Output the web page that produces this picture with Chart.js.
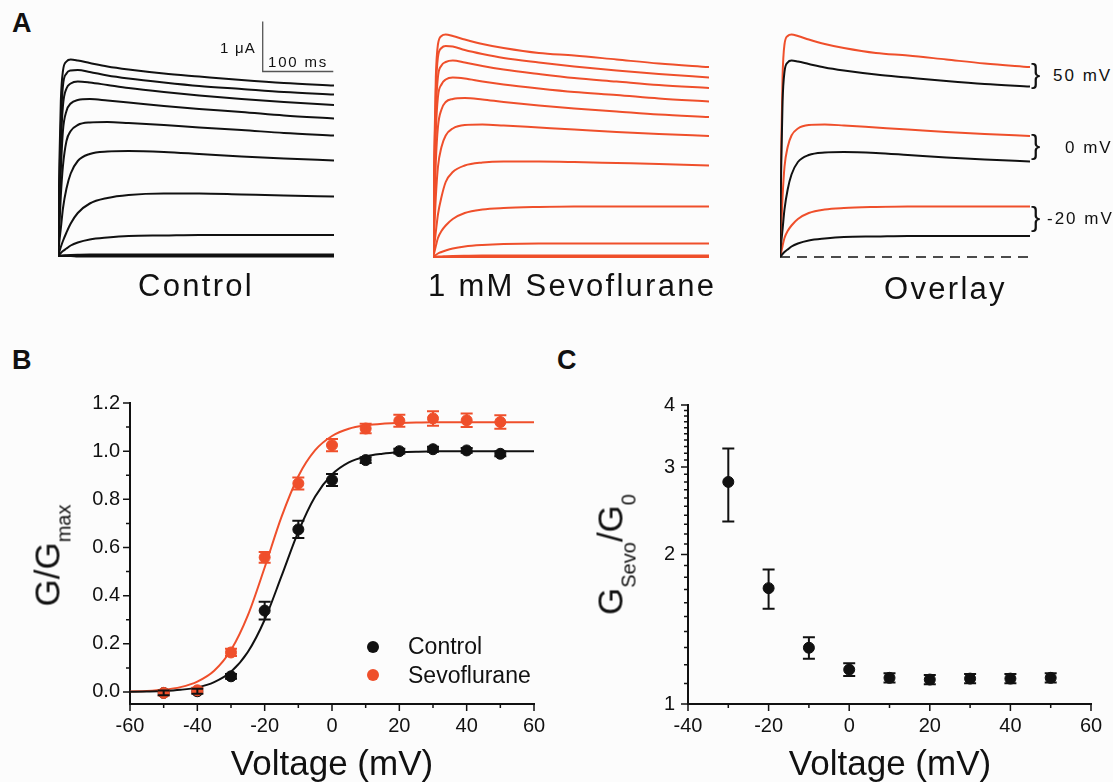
<!DOCTYPE html>
<html>
<head>
<meta charset="utf-8">
<script src="https://cdn.jsdelivr.net/npm/chart.js@4.4.1/dist/chart.umd.min.js"></script>
<style>
  body { margin: 0; width: 1113px; height: 782px; overflow: hidden; position: relative;
         background: #fcfcfc; color: #111; font-family: "Liberation Sans", Arial, sans-serif; }
  canvas { position: absolute; }
  .t { position: absolute; white-space: nowrap; line-height: 1; }
  .panel { font-weight: bold; font-size: 27px; }
  .cap { font-size: 31px; letter-spacing: 2.3px; }
  .mv { font-size: 17px; letter-spacing: 2px; }
  .brace { font-size: 28px; }
  .ttl { font-size: 35px; line-height: 35px; text-align: center; }
  .sub { font-size: 20px; position: relative; }
  .dot { position: absolute; width: 12px; height: 12px; border-radius: 50%; }
</style>
</head>
<body>
<canvas id="ctl" width="296" height="270" style="left:48px;top:6px"></canvas>
<canvas id="sevo" width="296" height="270" style="left:423px;top:7px"></canvas>
<canvas id="ovl" width="270" height="270" style="left:770px;top:7px"></canvas>
<canvas id="gv" width="560" height="402" style="left:0;top:380px"></canvas>
<canvas id="ratio" width="553" height="402" style="left:560px;top:380px"></canvas>

<div class="t panel" style="left:12px;top:10px">A</div>
<div class="t panel" style="left:12px;top:347px">B</div>
<div class="t panel" style="left:557px;top:347px">C</div>

<div class="t" style="left:220px;top:40px;font-size:15px;letter-spacing:1.2px">1 μA</div>
<div class="t" style="left:268px;top:54px;font-size:15px;letter-spacing:1.8px">100 ms</div>

<div class="t cap" style="left:138px;top:270px">Control</div>
<div class="t cap" style="left:428px;top:270px">1 mM Sevoflurane</div>
<div class="t cap" style="left:884px;top:273px">Overlay</div>

<div class="t brace" style="left:1031px;top:60px">}</div>
<div class="t brace" style="left:1031px;top:131px">}</div>
<div class="t brace" style="left:1031px;top:203px">}</div>
<div class="t mv" style="left:1053px;top:67px">50 mV</div>
<div class="t mv" style="left:1065px;top:139px">0 mV</div>
<div class="t mv" style="left:1047px;top:210px">-20 mV</div>

<div class="t ttl" style="left:-50px;top:535px;width:200px;transform:rotate(-90deg)">G/G<span class="sub" style="top:11px">max</span></div>
<div class="t ttl" style="left:513px;top:534px;width:200px;transform:rotate(-90deg)">G<span class="sub" style="top:13px">Sevo</span>/G<span class="sub" style="top:13px">0</span></div>
<div class="t ttl" style="left:182px;top:745px;width:300px">Voltage (mV)</div>
<div class="t ttl" style="left:740px;top:745px;width:300px">Voltage (mV)</div>

<div class="dot" style="left:367px;top:641px;background:#111"></div>
<div class="dot" style="left:367px;top:669px;background:#ef4f2b"></div>
<div class="t" style="left:408px;top:635px;font-size:23px">Control</div>
<div class="t" style="left:408px;top:664px;font-size:23px">Sevoflurane</div>

<script>
// --- panel A: current traces (µA) sampled at these times (ms)
const traceTimes = [0, 2, 4, 7, 12, 18, 28, 45, 70, 100, 150, 200, 260, 320, 391];
const traceEnd = 391;
const stepVoltages = [50, 40, 30, 20, 10, 0, -10, -20, -30, -40, -50];
const controlTraces = [
  [0, 1.9, 3.1, 3.7, 3.89, 3.93, 3.91, 3.86, 3.79, 3.73, 3.65, 3.59, 3.52, 3.46, 3.41],
  [0, 1.5, 2.6, 3.4, 3.65, 3.71, 3.72, 3.68, 3.61, 3.55, 3.47, 3.4, 3.34, 3.28, 3.23],
  [0, 1.2, 2.2, 3.0, 3.35, 3.45, 3.49, 3.47, 3.42, 3.36, 3.28, 3.21, 3.14, 3.08, 3.02],
  [0, 0.9, 1.7, 2.5, 2.9, 3.05, 3.12, 3.14, 3.11, 3.07, 3.0, 2.94, 2.88, 2.81, 2.75],
  [0, 0.6, 1.2, 1.8, 2.3, 2.5, 2.62, 2.67, 2.68, 2.66, 2.62, 2.57, 2.52, 2.46, 2.41],
  [0, 0.3, 0.55, 0.95, 1.35, 1.65, 1.9, 2.04, 2.09, 2.1, 2.08, 2.04, 1.99, 1.95, 1.91],
  [0, 0.09, 0.18, 0.3, 0.47, 0.65, 0.86, 1.05, 1.16, 1.22, 1.25, 1.25, 1.23, 1.21, 1.19],
  [0, 0.03, 0.06, 0.1, 0.15, 0.21, 0.27, 0.33, 0.37, 0.4, 0.41, 0.42, 0.42, 0.42, 0.42],
  [0, 0, 0.01, 0.01, 0.015, 0.02, 0.025, 0.03, 0.03, 0.03, 0.03, 0.03, 0.03, 0.03, 0.03],
  [0, 0, 0, 0.005, 0.005, 0.01, 0.01, 0.01, 0.01, 0.01, 0.01, 0.01, 0.01, 0.01, 0.01],
  [0, 0, 0, 0, 0, 0, -0.01, -0.01, -0.01, -0.01, -0.01, -0.01, -0.01, -0.01, -0.01]
];
const sevoTraces = [
  [0, 2.2, 3.6, 4.25, 4.42, 4.45, 4.42, 4.35, 4.26, 4.18, 4.08, 4.03, 3.95, 3.87, 3.8],
  [0, 2.0, 3.3, 4.0, 4.18, 4.22, 4.21, 4.14, 4.06, 3.98, 3.89, 3.81, 3.73, 3.66, 3.59],
  [0, 1.7, 2.9, 3.6, 3.83, 3.9, 3.93, 3.89, 3.82, 3.75, 3.66, 3.58, 3.51, 3.44, 3.38],
  [0, 1.4, 2.5, 3.2, 3.45, 3.55, 3.59, 3.57, 3.51, 3.45, 3.37, 3.3, 3.24, 3.17, 3.11],
  [0, 1.0, 1.9, 2.6, 2.95, 3.1, 3.16, 3.18, 3.15, 3.1, 3.03, 2.97, 2.91, 2.85, 2.8],
  [0, 0.6, 1.2, 1.8, 2.2, 2.43, 2.57, 2.64, 2.65, 2.63, 2.59, 2.55, 2.5, 2.46, 2.42],
  [0, 0.25, 0.5, 0.85, 1.2, 1.5, 1.7, 1.83, 1.89, 1.91, 1.91, 1.9, 1.88, 1.86, 1.83],
  [0, 0.1, 0.22, 0.38, 0.52, 0.63, 0.76, 0.88, 0.95, 0.98, 1.0, 1.01, 1.01, 1.01, 1.01],
  [0, 0.02, 0.04, 0.07, 0.1, 0.13, 0.17, 0.21, 0.24, 0.26, 0.27, 0.27, 0.27, 0.27, 0.27],
  [0, 0, 0.005, 0.01, 0.01, 0.015, 0.02, 0.025, 0.03, 0.03, 0.03, 0.03, 0.03, 0.03, 0.03],
  [0, 0, 0, 0, 0, 0, 0, 0, 0, 0, 0, 0, 0, 0, 0]
];
const overlayVoltages = [50, 0, -20];
// scale bar: 100 ms x 1 µA
const barStart = 290, barMs = 100, barTop = 4.69, barUA = 1;

// --- panel B: G/Gmax vs voltage
const voltages = [-50, -40, -30, -20, -10, 0, 10, 20, 30, 40, 50];
const gControl = [-0.004, 0.003, 0.065, 0.338, 0.675, 0.88, 0.963, 1.0, 1.008, 1.003, 0.989];
const gControlErr = [0.01, 0.01, 0.01, 0.037, 0.036, 0.025, 0.012, 0.01, 0.01, 0.01, 0.01];
const gSevo = [-0.004, 0.007, 0.164, 0.559, 0.866, 1.025, 1.094, 1.126, 1.136, 1.128, 1.121];
const gSevoErr = [0.01, 0.01, 0.015, 0.022, 0.025, 0.025, 0.02, 0.025, 0.03, 0.028, 0.028];
const fitVoltages = [-60, -55, -50, -45, -40, -35, -30, -25, -20, -15, -10, -5, 0, 5, 10, 15, 20, 25, 30, 35, 40, 45, 50, 55, 60];
const fitControl = [0.001, 0.002, 0.004, 0.009, 0.019, 0.041, 0.084, 0.166, 0.3, 0.481, 0.666, 0.812, 0.903, 0.953, 0.978, 0.989, 0.995, 0.998, 0.999, 1, 1, 1, 1, 1, 1];
const fitSevo = [0.002, 0.004, 0.009, 0.02, 0.043, 0.088, 0.174, 0.318, 0.517, 0.727, 0.896, 1.004, 1.063, 1.093, 1.107, 1.114, 1.117, 1.119, 1.12, 1.12, 1.12, 1.12, 1.12, 1.12, 1.12];
const xTicksB = [-60, -40, -20, 0, 20, 40, 60];
const xMinorB = [-50, -30, -10, 10, 30, 50];
const yTicksB = [0, 0.2, 0.4, 0.6, 0.8, 1.0, 1.2];
const yMinorB = [0.1, 0.3, 0.5, 0.7, 0.9, 1.1];

// --- panel C: GSevo/G0 vs voltage (log axis)
const ratioVoltages = [-30, -20, -10, 0, 10, 20, 30, 40, 50];
const ratio = [2.8, 1.711, 1.298, 1.173, 1.129, 1.12, 1.125, 1.125, 1.129];
const ratioErr = [0.47, 0.155, 0.065, 0.035, 0.024, 0.024, 0.024, 0.024, 0.024];
const xTicksC = [-40, -20, 0, 20, 40, 60];
const xMinorC = [-30, -10, 10, 30, 50];
const yTicksC = [1, 2, 3, 4];
const yMinorC = [1.1, 1.2, 1.3, 1.4, 1.5, 1.6, 1.7, 1.8, 1.9, 2.1, 2.2, 2.3, 2.4, 2.5, 2.6, 2.7, 2.8, 2.9,
                 3.1, 3.2, 3.3, 3.4, 3.5, 3.6, 3.7, 3.8, 3.9];

const INK = '#111';
const RED = '#ef4f2b';
Chart.defaults.font.family = '"Liberation Sans", Arial, sans-serif';
Chart.defaults.color = INK;

function series(xs, ys) { return xs.map((x, i) => ({x: x, y: ys[i]})); }

function traceSet(values, color) {
  return {data: series(traceTimes, values), borderColor: color, borderWidth: 2,
          pointRadius: 0, cubicInterpolationMode: 'monotone'};
}

function traceOptions() {
  return {
    responsive: false, animation: false, devicePixelRatio: 1,
    layout: {padding: 10},
    plugins: {legend: {display: false}, tooltip: {enabled: false}},
    scales: {
      x: {type: 'linear', min: 0, max: traceEnd, display: false},
      y: {type: 'linear', min: -0.2, max: 4.8, display: false}
    }
  };
}

// control traces + scale bar
const ctlSets = controlTraces.map(v => traceSet(v, INK));
ctlSets.push({data: [{x: barStart, y: barTop}, {x: barStart, y: barTop - barUA}, {x: barStart + barMs, y: barTop - barUA}],
              borderColor: '#555', borderWidth: 1.3, pointRadius: 0, tension: 0});
new Chart(document.getElementById('ctl'), {type: 'line', data: {datasets: ctlSets}, options: traceOptions()});

new Chart(document.getElementById('sevo'), {
  type: 'line',
  data: {datasets: sevoTraces.map(v => traceSet(v, RED))},
  options: traceOptions()
});

const ovlSets = [{data: [{x: 0, y: 0}, {x: traceEnd, y: 0}], borderColor: INK, borderWidth: 1.5,
                  borderDash: [10, 7], pointRadius: 0, tension: 0}];
overlayVoltages.forEach(mv => {
  const k = stepVoltages.indexOf(mv);
  ovlSets.push(traceSet(controlTraces[k], INK));
  ovlSets.push(traceSet(sevoTraces[k], RED));
});
new Chart(document.getElementById('ovl'), {type: 'line', data: {datasets: ovlSets}, options: traceOptions()});

// error bars and outward tick marks
const errorBars = {
  id: 'errorBars',
  afterDatasetsDraw(chart) {
    const ctx = chart.ctx, y = chart.scales.y;
    chart.data.datasets.forEach((ds, i) => {
      if (!ds.errors) return;
      const meta = chart.getDatasetMeta(i);
      ctx.save();
      ctx.strokeStyle = ds.borderColor;
      ctx.lineWidth = 2;
      meta.data.forEach((pt, j) => {
        const v = ds.data[j].y, e = ds.errors[j];
        const top = y.getPixelForValue(v + e), bot = y.getPixelForValue(v - e);
        ctx.beginPath();
        ctx.moveTo(pt.x, top); ctx.lineTo(pt.x, bot);
        ctx.moveTo(pt.x - 6, top); ctx.lineTo(pt.x + 6, top);
        ctx.moveTo(pt.x - 6, bot); ctx.lineTo(pt.x + 6, bot);
        ctx.stroke();
      });
      ctx.restore();
    });
  }
};

const tickMarks = {
  id: 'tickMarks',
  afterDraw(chart, args, opts) {
    const ctx = chart.ctx, a = chart.chartArea, sx = chart.scales.x, sy = chart.scales.y;
    ctx.save();
    ctx.strokeStyle = INK;
    ctx.lineWidth = 1.5;
    ctx.beginPath();
    [['major', 7], ['minor', 4]].forEach(([kind, len]) => {
      opts.x[kind].forEach(v => {
        const px = sx.getPixelForValue(v);
        ctx.moveTo(px, a.bottom); ctx.lineTo(px, a.bottom + len);
      });
      opts.y[kind].forEach(v => {
        const py = sy.getPixelForValue(v);
        ctx.moveTo(a.left - len, py); ctx.lineTo(a.left, py);
      });
    });
    ctx.stroke();
    ctx.restore();
  }
};

function axis(type, min, max, ticks, fmt, size, pad) {
  return {
    type: type, min: min, max: max,
    afterBuildTicks: s => { s.ticks = ticks.map(v => ({value: v})); },
    afterFit: s => { if (s.isHorizontal()) s.height = size; else s.width = size; },
    grid: {display: false, drawTicks: false},
    border: {display: true, color: INK, width: 2},
    ticks: {color: INK, font: {size: 20}, padding: pad, autoSkip: false, maxRotation: 0,
            callback: v => fmt(v)}
  };
}

new Chart(document.getElementById('gv'), {
  type: 'scatter',
  data: {datasets: [
    {data: series(voltages, gSevo), errors: gSevoErr, backgroundColor: RED, borderColor: RED, pointRadius: 5.5, order: 0},
    {data: series(voltages, gControl), errors: gControlErr, backgroundColor: INK, borderColor: INK, pointRadius: 5.5, order: 0},
    {type: 'line', data: series(fitVoltages, fitControl), borderColor: INK, borderWidth: 2, pointRadius: 0,
     cubicInterpolationMode: 'monotone', order: 1},
    {type: 'line', data: series(fitVoltages, fitSevo), borderColor: RED, borderWidth: 2, pointRadius: 0,
     cubicInterpolationMode: 'monotone', order: 1}
  ]},
  options: {
    responsive: false, animation: false, devicePixelRatio: 1,
    layout: {padding: {top: 23, right: 26, left: 0, bottom: 0}},
    plugins: {legend: {display: false}, tooltip: {enabled: false},
              tickMarks: {x: {major: xTicksB, minor: xMinorB}, y: {major: yTicksB, minor: yMinorB}}},
    scales: {
      x: axis('linear', -60, 60, xTicksB, v => String(v), 78, 10),
      y: axis('linear', -0.05, 1.2, yTicksB, v => v.toFixed(1), 130, 10)
    }
  },
  plugins: [errorBars, tickMarks]
});

new Chart(document.getElementById('ratio'), {
  type: 'scatter',
  data: {datasets: [
    {data: series(ratioVoltages, ratio), errors: ratioErr, backgroundColor: INK, borderColor: INK, pointRadius: 5.5}
  ]},
  options: {
    responsive: false, animation: false, devicePixelRatio: 1,
    layout: {padding: {top: 23, right: 22, left: 0, bottom: 0}},
    plugins: {legend: {display: false}, tooltip: {enabled: false},
              tickMarks: {x: {major: xTicksC, minor: xMinorC}, y: {major: yTicksC, minor: yMinorC}}},
    scales: {
      x: axis('linear', -40, 60, xTicksC, v => String(v), 78, 10),
      y: axis('logarithmic', 1, 4, yTicksC, v => String(v), 128, 13)
    }
  },
  plugins: [errorBars, tickMarks]
});
</script>
</body>
</html>
